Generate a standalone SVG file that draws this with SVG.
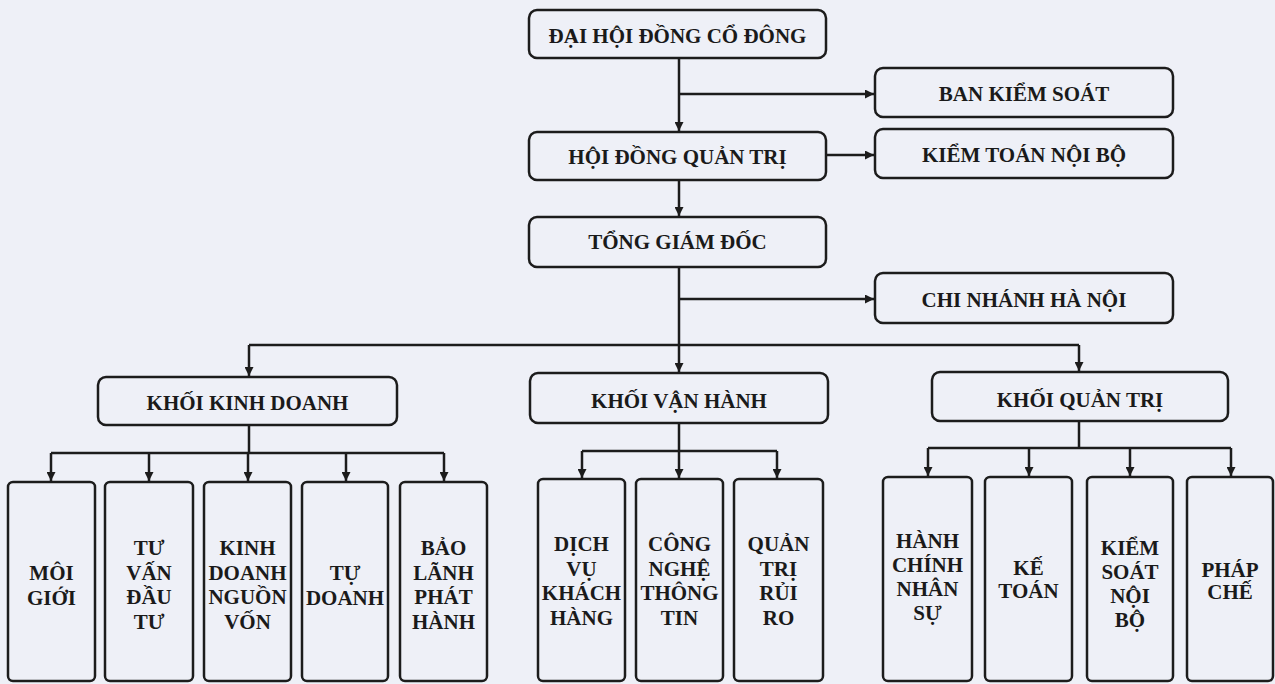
<svg xmlns="http://www.w3.org/2000/svg" width="1275" height="684" viewBox="0 0 1275 684">
<style>
.bg{fill:#eef0f7}
.box{fill:none;stroke:#1c1c1c;stroke-width:2.5}
.ln{fill:none;stroke:#1c1c1c;stroke-width:2.5}
.arr{fill:none;stroke:#1c1c1c;stroke-width:2.5;marker-end:url(#ah)}
text{font-family:"Liberation Serif","Times New Roman",serif;font-weight:bold;font-size:21px;fill:#1a1a1a;text-anchor:middle}
</style>
<defs>
<marker id="ah" markerUnits="userSpaceOnUse" markerWidth="10" markerHeight="9" refX="9" refY="4.5" orient="auto">
<path d="M0,0 L9,4.5 L0,9 z" fill="#1c1c1c"/>
</marker>
</defs>
<rect class="bg" x="0" y="0" width="1275" height="684"/>

<g id="connectors">
<path class="arr" d="M679,58 V131"/>
<path class="arr" d="M679,94 H874"/>
<path class="arr" d="M826,155 H874"/>
<path class="arr" d="M679,180 V216"/>
<path class="arr" d="M679,267 V372"/>
<path class="arr" d="M679,299 H874"/>
<path class="ln" d="M249,345 H1079"/>
<path class="arr" d="M249,345 V376"/>
<path class="arr" d="M1079,345 V371"/>
<path class="ln" d="M249,425 V453 M51,453 H444"/>
<path class="arr" d="M51,453 V481"/>
<path class="arr" d="M149,453 V481"/>
<path class="arr" d="M248,453 V481"/>
<path class="arr" d="M346,453 V481"/>
<path class="arr" d="M444,453 V481"/>
<path class="ln" d="M679,423 V451 M582,451 H777"/>
<path class="arr" d="M582,451 V478"/>
<path class="arr" d="M679,451 V478"/>
<path class="arr" d="M777,451 V478"/>
<path class="ln" d="M1079,421 V448 M928,448 H1231"/>
<path class="arr" d="M928,448 V476"/>
<path class="arr" d="M1029,448 V476"/>
<path class="arr" d="M1130,448 V476"/>
<path class="arr" d="M1231,448 V476"/>
</g>

<g id="dhdcd"><rect class="box" x="529" y="10" width="297" height="48" rx="8"/><text x="677.5" y="42.5">ĐẠI HỘI ĐỒNG CỔ ĐÔNG</text></g>
<g id="hdqt"><rect class="box" x="529" y="132" width="297" height="48" rx="8"/><text x="677.5" y="164">HỘI ĐỒNG QUẢN TRỊ</text></g>
<g id="tgd"><rect class="box" x="529" y="217" width="297" height="50" rx="8"/><text x="677.5" y="249">TỔNG GIÁM ĐỐC</text></g>
<g id="bks"><rect class="box" x="875" y="68" width="298" height="49" rx="8"/><text x="1024" y="100.5">BAN KIỂM SOÁT</text></g>
<g id="ktnb"><rect class="box" x="875" y="129" width="298" height="49" rx="8"/><text x="1024" y="161.5">KIỂM TOÁN NỘI BỘ</text></g>
<g id="cnhn"><rect class="box" x="875" y="273" width="298" height="50" rx="8"/><text x="1024" y="306.5">CHI NHÁNH HÀ NỘI</text></g>

<g id="kkd"><rect class="box" x="98" y="377" width="299" height="48" rx="8"/><text x="247.5" y="410">KHỐI KINH DOANH</text></g>
<g id="kvh"><rect class="box" x="530" y="373" width="298" height="50" rx="8"/><text x="679" y="408">KHỐI VẬN HÀNH</text></g>
<g id="kqt"><rect class="box" x="932" y="372" width="296" height="49" rx="8"/><text x="1080" y="407">KHỐI QUẢN TRỊ</text></g>

<g id="moigioi"><rect class="box" x="8" y="482" width="87" height="199" rx="5"/><text x="51.5" y="580">MÔI</text><text x="51.5" y="604.5">GIỚI</text></g>
<g id="tuvan"><rect class="box" x="105" y="482" width="88" height="199" rx="5"/><text x="149" y="555">TƯ</text><text x="149" y="579.5">VẤN</text><text x="149" y="604">ĐẦU</text><text x="149" y="628.5">TƯ</text></g>
<g id="kdnv"><rect class="box" x="204" y="482" width="87" height="199" rx="5"/><text x="247.5" y="555">KINH</text><text x="247.5" y="579.5">DOANH</text><text x="247.5" y="604">NGUỒN</text><text x="247.5" y="628.5">VỐN</text></g>
<g id="tudoanh"><rect class="box" x="302" y="482" width="86" height="199" rx="5"/><text x="345" y="580">TỰ</text><text x="345" y="604.5">DOANH</text></g>
<g id="baolanh"><rect class="box" x="400" y="482" width="87" height="199" rx="5"/><text x="443.5" y="555">BẢO</text><text x="443.5" y="579.5">LÃNH</text><text x="443.5" y="604">PHÁT</text><text x="443.5" y="628.5">HÀNH</text></g>

<g id="dvkh"><rect class="box" x="538" y="479" width="87" height="202" rx="5"/><text x="581.5" y="551">DỊCH</text><text x="581.5" y="575.5">VỤ</text><text x="581.5" y="600">KHÁCH</text><text x="581.5" y="624.5">HÀNG</text></g>
<g id="cntt"><rect class="box" x="636" y="479" width="87" height="202" rx="5"/><text x="679.5" y="551">CÔNG</text><text x="679.5" y="575.5">NGHỆ</text><text x="679.5" y="600">THÔNG</text><text x="679.5" y="624.5">TIN</text></g>
<g id="qtrr"><rect class="box" x="734" y="479" width="89" height="202" rx="5"/><text x="778.5" y="551">QUẢN</text><text x="778.5" y="575.5">TRỊ</text><text x="778.5" y="600">RỦI</text><text x="778.5" y="624.5">RO</text></g>

<g id="hcns"><rect class="box" x="883" y="477" width="89" height="204" rx="5"/><text x="927.5" y="548">HÀNH</text><text x="927.5" y="572">CHÍNH</text><text x="927.5" y="596">NHÂN</text><text x="927.5" y="620">SỰ</text></g>
<g id="ketoan"><rect class="box" x="985" y="477" width="87" height="204" rx="5"/><text x="1028.5" y="575">KẾ</text><text x="1028.5" y="598">TOÁN</text></g>
<g id="ksnb"><rect class="box" x="1087" y="477" width="86" height="204" rx="5"/><text x="1130" y="555">KIỂM</text><text x="1130" y="579">SOÁT</text><text x="1130" y="603">NỘI</text><text x="1130" y="627">BỘ</text></g>
<g id="phapche"><rect class="box" x="1187" y="477" width="86" height="204" rx="5"/><text x="1230" y="577">PHÁP</text><text x="1230" y="599">CHẾ</text></g>
</svg>
